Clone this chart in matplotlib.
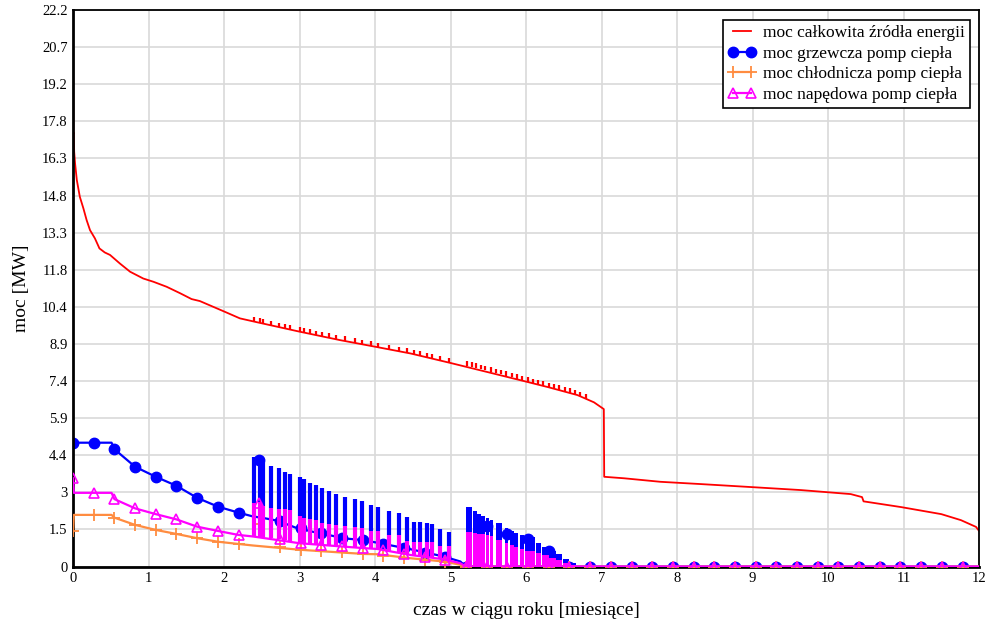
import matplotlib
matplotlib.use("Agg")
import matplotlib.pyplot as plt
from matplotlib.lines import Line2D
import numpy as np

plt.rcParams['font.family'] = ['Liberation Serif', 'DejaVu Serif']

# ---------------- data (months, MW) ----------------
red_x = [0, 0.004, 0.01, 0.015, 0.027, 0.05, 0.09, 0.137, 0.18, 0.225, 0.29, 0.35, 0.42, 0.49,
         0.62, 0.756, 0.93, 1.065, 1.24, 1.42, 1.57, 1.68, 2.02, 2.21, 2.43, 3.0, 3.54, 4.0,
         4.47, 5.0, 5.5, 6.01, 6.3, 6.68, 6.9, 7.03, 7.035, 7.3, 7.78, 8.31, 8.98, 9.64,
         10.3, 10.45, 10.47, 10.97, 11.5, 11.76, 11.96, 12.0]
red_y = [22.2, 17.28, 17.3, 16.55, 16.08, 15.42, 14.75, 14.29, 13.82, 13.42, 13.09, 12.69, 12.53,
         12.43, 12.09, 11.76, 11.49, 11.36, 11.16, 10.9, 10.67, 10.59, 10.15, 9.9, 9.75, 9.37,
         9.03, 8.77, 8.5, 8.12, 7.75, 7.37, 7.15, 6.84, 6.55, 6.28, 3.58, 3.52, 3.38, 3.29,
         3.17, 3.05, 2.89, 2.77, 2.6, 2.37, 2.09, 1.85, 1.58, 1.42]

red_bump_x = [2.40, 2.47, 2.52, 2.62, 2.73, 2.81, 2.88, 3.00, 3.06, 3.14, 3.22, 3.30, 3.39, 3.48,
              3.60, 3.73, 3.83, 3.95, 4.04, 4.19, 4.32, 4.42, 4.51, 4.59, 4.69, 4.75, 4.86, 4.98,
              5.22, 5.28, 5.34, 5.40, 5.46, 5.53, 5.60, 5.67, 5.74, 5.81, 5.88, 5.95, 6.02, 6.09,
              6.16, 6.23, 6.30, 6.37, 6.44, 6.51, 6.58, 6.65, 6.72, 6.79]
red_bump_lo = [9.77, 9.73, 9.70, 9.63, 9.55, 9.50, 9.45, 9.37, 9.33, 9.28, 9.23, 9.18, 9.12, 9.07,
               9.00, 8.92, 8.87, 8.80, 8.75, 8.66, 8.59, 8.53, 8.47, 8.41, 8.34, 8.30, 8.22, 8.13,
               8.00, 7.96, 7.92, 7.87, 7.83, 7.78, 7.72, 7.67, 7.62, 7.56, 7.50, 7.44, 7.37, 7.32,
               7.27, 7.22, 7.16, 7.11, 7.06, 7.00, 6.94, 6.87, 6.80, 6.70]
red_bump_hi = [9.95, 9.91, 9.88, 9.81, 9.73, 9.68, 9.63, 9.55, 9.51, 9.46, 9.41, 9.36, 9.30, 9.25,
               9.18, 9.10, 9.05, 8.98, 8.93, 8.84, 8.77, 8.71, 8.65, 8.59, 8.52, 8.48, 8.40, 8.31,
               8.18, 8.14, 8.10, 8.05, 8.01, 7.96, 7.90, 7.85, 7.80, 7.74, 7.68, 7.62, 7.55, 7.50,
               7.45, 7.40, 7.34, 7.29, 7.24, 7.18, 7.12, 7.05, 6.98, 6.88]

blue_x = [0, 0.51, 0.548, 0.822, 1.096, 1.37, 1.644, 1.918, 2.192, 2.38, 2.55, 2.72, 2.94, 3.17,
          3.38, 3.6, 3.83, 4.03, 4.47, 4.91, 5.13, 5.2, 12.0]
blue_y = [4.94, 4.94, 4.68, 3.98, 3.58, 3.22, 2.74, 2.39, 2.15, 2.0, 1.92, 1.82, 1.56, 1.39,
          1.26, 1.12, 1.06, 0.95, 0.69, 0.4, 0.2, 0.0, 0.0]

mag_x = [0, 0.01, 0.51, 0.548, 0.822, 1.096, 1.37, 1.644, 1.918, 2.192, 2.38, 3.0, 3.6, 3.87,
         4.03, 4.47, 4.91, 5.13, 5.2, 12.0]
mag_y = [3.52, 2.94, 2.94, 2.69, 2.32, 2.09, 1.88, 1.59, 1.42, 1.26, 1.2, 0.93, 0.79, 0.73,
         0.7, 0.46, 0.29, 0.13, 0.0, 0.0]

org_x = [0, 0.01, 0.51, 0.548, 0.822, 1.096, 1.37, 1.644, 1.918, 2.192, 2.38, 3.0, 3.6, 3.87,
         4.03, 4.47, 4.91, 5.13, 5.2, 12.0]
org_y = [1.4, 2.06, 2.06, 1.95, 1.66, 1.46, 1.3, 1.13, 0.99, 0.9, 0.84, 0.67, 0.55, 0.5,
         0.49, 0.33, 0.2, 0.07, 0.0, 0.0]

# markers every 200 h
mark_x = [0.0, 0.274, 0.548, 0.822, 1.096, 1.370, 1.644, 1.918, 2.192, 2.466, 2.740, 3.014,
          3.288, 3.562, 3.836, 4.110, 4.384, 4.658, 4.932, 5.205, 5.479, 5.753, 6.027, 6.301,
          6.575, 6.849, 7.123, 7.397, 7.671, 7.945, 8.219, 8.493, 8.767, 9.041, 9.315, 9.589,
          9.863, 10.137, 10.411, 10.685, 10.959, 11.233, 11.507, 11.781]
blue_mark = [4.94, 4.94, 4.68, 3.98, 3.58, 3.22, 2.74, 2.39, 2.15, 4.25, 1.82, 1.52, 1.33, 1.14,
             1.05, 0.9, 0.72, 0.55, 0.38, 0.0, 1.6, 1.3, 1.1, 0.6, 0.0, 0, 0, 0, 0, 0, 0, 0,
             0, 0, 0, 0, 0, 0, 0, 0, 0, 0, 0, 0]
mag_mark = [3.52, 2.94, 2.69, 2.32, 2.09, 1.88, 1.59, 1.42, 1.26, 2.55, 1.1, 0.93, 0.86, 0.8,
            0.74, 0.65, 0.5, 0.4, 0.28, 0, 0, 0, 0, 0, 0, 0, 0, 0, 0, 0, 0, 0, 0, 0, 0, 0,
            0, 0, 0, 0, 0, 0, 0, 0]
org_mark = [1.4, 2.06, 1.95, 1.66, 1.46, 1.3, 1.13, 0.99, 0.9, 1.7, 0.77, 0.67, 0.61, 0.56,
            0.5, 0.44, 0.35, 0.27, 0.19, 0, 0, 0, 0, 0, 0, 0, 0, 0, 0, 0, 0, 0, 0, 0, 0, 0,
            0, 0, 0, 0, 0, 0, 0, 0]

# on/off spikes (Feb-May)
spike_x = [2.40, 2.47, 2.52, 2.62, 2.73, 2.81, 2.88, 3.00, 3.06, 3.14, 3.22, 3.30, 3.39, 3.48,
           3.60, 3.73, 3.83, 3.95, 4.04, 4.19, 4.32, 4.42, 4.51, 4.59, 4.69, 4.75, 4.86, 4.98]
spike_blue = [4.36, 4.38, 4.18, 4.01, 3.92, 3.76, 3.68, 3.58, 3.48, 3.32, 3.25, 3.12, 3.02, 2.89,
              2.78, 2.68, 2.61, 2.45, 2.36, 2.23, 2.15, 1.99, 1.79, 1.76, 1.72, 1.68, 1.48, 1.39]
spike_mag = [2.55, 2.58, 2.40, 2.32, 2.30, 2.28, 2.25, 2.00, 1.95, 1.90, 1.85, 1.75, 1.70, 1.65,
             1.60, 1.58, 1.55, 1.43, 1.43, 1.26, 1.26, 1.03, 0.99, 0.99, 0.99, 0.99, 0.82, 0.82]
spike_mag_base = [1.20, 1.18, 1.16, 1.12, 1.08, 1.04, 1.01, 0.93, 0.92, 0.90, 0.88, 0.86, 0.84,
                  0.82, 0.79, 0.76, 0.73, 0.72, 0.70, 0.63, 0.55, 0.50, 0.45, 0.42, 0.38, 0.36,
                  0.31, 0.26]

# dense on/off blocks (May-June)
blk_edges = [5.199, 5.279, 5.301, 5.345, 5.398, 5.455, 5.473, 5.508, 5.526, 5.566, 5.606, 5.686,
             5.716, 5.760, 5.782, 5.839, 5.898, 5.919, 5.972, 5.985, 6.118, 6.137, 6.194, 6.216,
             6.304, 6.393, 6.481, 6.492, 6.569, 6.658]
blk_blue = [2.38, 0, 2.2, 2.1, 2.0, 0, 1.92, 0, 1.84, 0, 1.72, 0, 1.55, 0, 1.42, 1.34, 0, 1.25,
            0, 1.18, 0, 0.95, 0, 0.78, 0.62, 0.48, 0, 0.3, 0.14]
blk_mag = [1.39, 0, 1.32, 1.3, 1.28, 0, 1.25, 0, 1.2, 0, 1.05, 0, 0.92, 0, 0.85, 0.78, 0, 0.7,
           0, 0.62, 0, 0.55, 0, 0.45, 0.35, 0.28, 0, 0.15, 0.08]

x_ticks = [0, 1, 2, 3, 4, 5, 6, 7, 8, 9, 10, 11, 12]
y_tick_labels = ['0', '1.5', '3', '4.4', '5.9', '7.4', '8.9', '10.4', '11.8', '13.3', '14.8',
                 '16.3', '17.8', '19.2', '20.7', '22.2']

labels = ['moc całkowita źródła energii', 'moc grzewcza pomp ciepła',
          'moc chłodnicza pomp ciepła', 'moc napędowa pomp ciepła']

# ---------------- plot ----------------
RED, BLUE, ORG, MAG = '#ff0000', '#0000ff', '#ff8c40', '#ff00ff'

fig = plt.figure(figsize=(9.95, 6.24), dpi=100)
ax = fig.add_axes([0.0734, 0.0921, 0.9106, 0.8918])

ax.plot(red_x, red_y, color=RED, lw=1.3, zorder=2)
ax.vlines(red_bump_x, red_bump_lo, red_bump_hi, color=RED, lw=1.6, zorder=2)

ax.plot(blue_x, blue_y, color=BLUE, lw=1.6, zorder=2)
ax.vlines(spike_x, spike_mag, spike_blue, color=BLUE, lw=3.0, zorder=2)
ax.stairs(blk_blue, blk_edges, fill=True, color=BLUE, lw=0, zorder=2)
ax.plot(mark_x, blue_mark, ls='none', marker='o', ms=7.5, color=BLUE, zorder=2.1)

ax.plot(org_x, org_y, color=ORG, lw=1.6, zorder=3)
ax.plot(mark_x, org_mark, ls='none', marker='+', ms=8, mew=1.3, color=ORG, zorder=3.1)

ax.vlines(spike_x, spike_mag_base, spike_mag, color=MAG, lw=3.0, zorder=4)
ax.stairs(blk_mag, blk_edges, fill=True, color=MAG, lw=0, zorder=4)
ax.plot(mag_x, mag_y, color=MAG, lw=1.6, zorder=4)
ax.plot(mark_x, mag_mark, ls='none', marker='^', ms=7, mew=1.2, mfc='none', color=MAG,
        zorder=4.1)

ax.set_xlim(0, 12)
ax.set_ylim(0, 22.2)
ax.set_xticks(x_ticks)
ax.set_xticklabels([str(t) for t in x_ticks])
ax.set_yticks(np.linspace(0, 22.2, len(y_tick_labels)))
ax.set_yticklabels(y_tick_labels)
ax.tick_params(length=0, labelsize=10.5, pad=4)
ax.grid(True, color='#d9d9d9', lw=1.2)
ax.set_axisbelow(True)
for s in ['left', 'bottom']:
    ax.spines[s].set_linewidth(2)
for s in ['top', 'right']:
    ax.spines[s].set_linewidth(1.3)

ax.set_xlabel('czas w ciągu roku [miesiące]', fontsize=14, labelpad=12)
ax.set_ylabel('moc [MW]', fontsize=14, labelpad=8)

handles = [
    Line2D([], [], color=RED, lw=1.3),
    Line2D([], [], color=BLUE, lw=1.6, marker='o', ms=7.5),
    Line2D([], [], color=ORG, lw=1.6, marker='+', ms=8, mew=1.3),
    Line2D([], [], color=MAG, lw=1.6, marker='^', ms=7, mew=1.2, mfc='none'),
]
leg = ax.legend(handles, labels, loc='upper right', bbox_to_anchor=(0.990, 0.982),
                borderaxespad=0, fontsize=12.5, numpoints=2, handlelength=1.6,
                handletextpad=0.4, labelspacing=0.25, borderpad=0.3, fancybox=False,
                framealpha=1, edgecolor='black')
leg.get_frame().set_linewidth(1.2)

fig.savefig('out.png', dpi=100)
